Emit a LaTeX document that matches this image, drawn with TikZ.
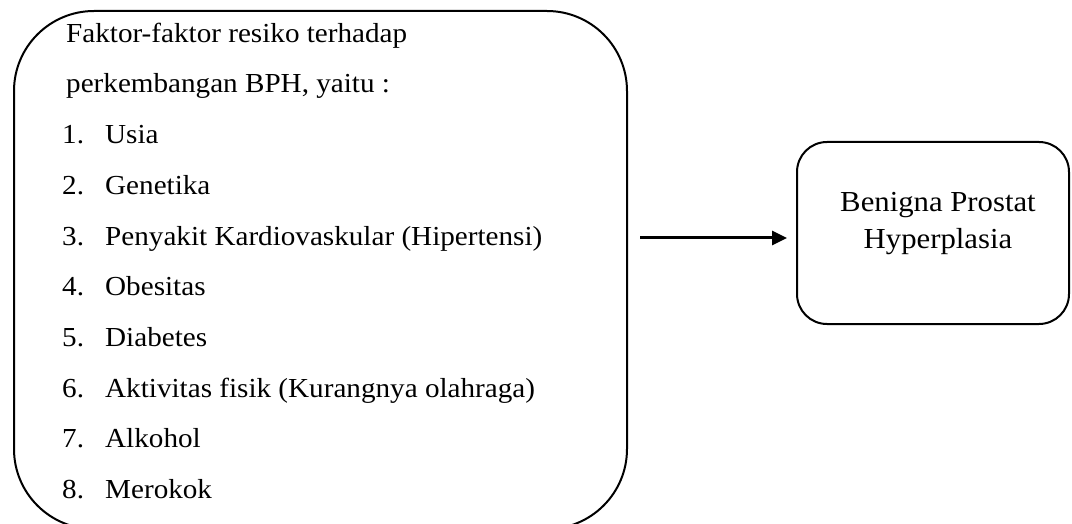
\documentclass[tikz,border=0pt]{standalone}
\usepackage{fontspec}
\setmainfont[FakeStretch=1.06]{Liberation Serif}
\usetikzlibrary{arrows.meta}
\begin{document}
\begin{tikzpicture}[x=1pt,y=-1pt,
  boxline/.style={draw=black,line width=2pt},
  itemtxt/.style={anchor=base west,inner sep=0pt,font=\fontsize{27.5}{30}\selectfont},
  arr/.style={line width=3pt,-{Triangle[length=15pt,width=14pt]}}]
\useasboundingbox (0,0) rectangle (1072,524);
\node[boxline,rounded corners=80pt,minimum width=613pt,minimum height=518pt,inner sep=0pt,anchor=north west] (lbox) at (13,10) {};
\node[boxline,rounded corners=30pt,minimum width=272pt,minimum height=182pt,inner sep=0pt,anchor=north west] (rbox) at (796,141) {};
\node[itemtxt] (t0) at (66,42.3) {Faktor-faktor resiko terhadap};
\node[itemtxt] (t1) at (66,93.0) {perkembangan BPH, yaitu :};
\foreach \n/\txt [count=\i from 2] in {1/Usia,2/Genetika,3/Penyakit Kardiovaskular (Hipertensi),4/Obesitas,5/Diabetes,6/Aktivitas fisik (Kurangnya olahraga),7/Alkohol,8/Merokok}{
  \node[itemtxt] (n\n) at (62,42.3+50.7*\i) {\n.};
  \node[itemtxt] (i\n) at (105,42.3+50.7*\i) {\txt};
}
\node[align=center,inner sep=0pt,font=\fontsize{29}{36.7}\selectfont] (rtxt) at (938,223.5) {Benigna Prostat\\Hyperplasia};
\coordinate (ay) at (700,238);
\draw[arr,shorten <=12pt,shorten >=9pt] (lbox.east |- ay) -- (rbox.west |- ay);
\end{tikzpicture}
\end{document}
